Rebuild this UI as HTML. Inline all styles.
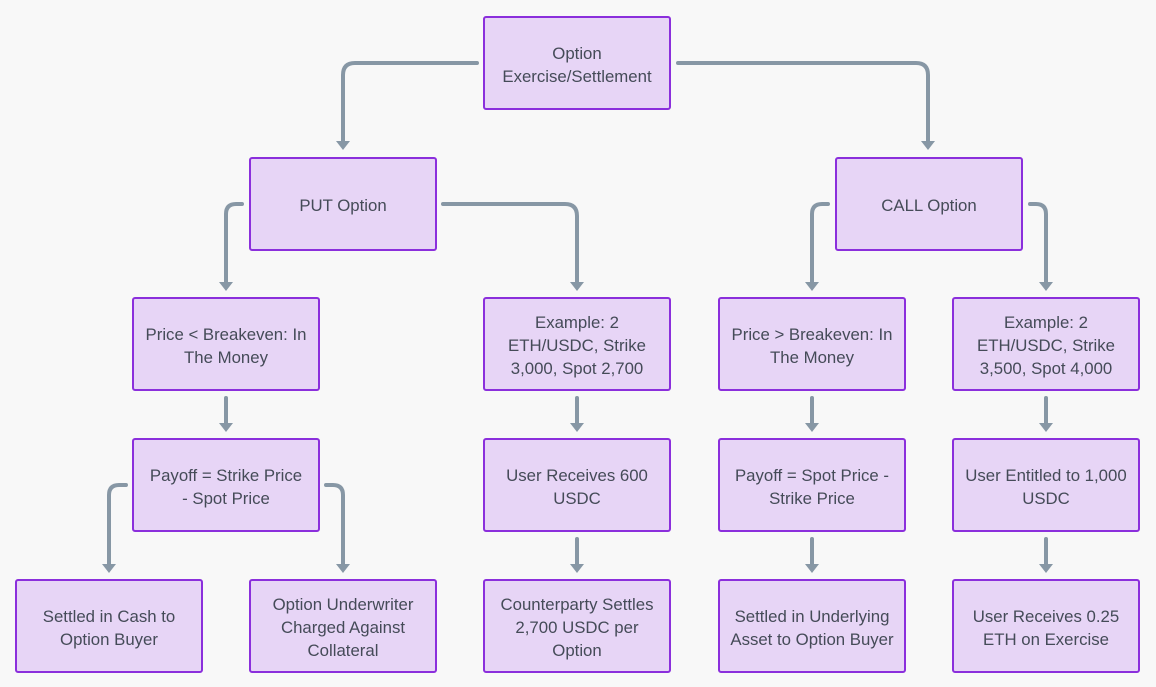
<!DOCTYPE html>
<html>
<head>
<meta charset="utf-8">
<style>
  html, body { margin: 0; padding: 0; }
  body { width: 1156px; height: 687px; background: #f8f8f8; position: relative; overflow: hidden;
         font-family: "Liberation Sans", "DejaVu Sans", sans-serif; }
  svg { position: absolute; left: 0; top: 0; }
  .n { position: absolute; box-sizing: border-box; width: 188px; height: 94px;
       background: #e7d5f6; border: 2px solid #8b2fdc; border-radius: 3px;
       display: flex; align-items: center; justify-content: center; text-align: center;
       color: #454b58; font-size: 16.8px; line-height: 23px; padding-top: 3px; white-space: nowrap; }
</style>
</head>
<body>
<svg width="1156" height="687" viewBox="0 0 1156 687">
  <g fill="none" stroke="#8797a5" stroke-width="4" stroke-linecap="round" stroke-linejoin="round">
    <path d="M477 63 H355 Q343 63 343 75 V141"/>
    <path d="M678 63 H916 Q928 63 928 75 V141"/>
    <path d="M242 204 H236 Q226 204 226 214 V282"/>
    <path d="M443 204 H565 Q577 204 577 216 V282"/>
    <path d="M828 204 H822 Q812 204 812 214 V282"/>
    <path d="M1030 204 H1036 Q1046 204 1046 214 V282"/>
    <path d="M226 398 V423"/>
    <path d="M577 398 V423"/>
    <path d="M812 398 V423"/>
    <path d="M1046 398 V423"/>
    <path d="M126 485 H119 Q109 485 109 495 V564"/>
    <path d="M326 485 H333 Q343 485 343 495 V564"/>
    <path d="M577 539 V564"/>
    <path d="M812 539 V564"/>
    <path d="M1046 539 V564"/>
  </g>
  <g fill="#8797a5">
    <polygon points="336,141 350,141 343,150"/>
    <polygon points="921,141 935,141 928,150"/>
    <polygon points="219,282 233,282 226,291"/>
    <polygon points="570,282 584,282 577,291"/>
    <polygon points="805,282 819,282 812,291"/>
    <polygon points="1039,282 1053,282 1046,291"/>
    <polygon points="219,423 233,423 226,432"/>
    <polygon points="570,423 584,423 577,432"/>
    <polygon points="805,423 819,423 812,432"/>
    <polygon points="1039,423 1053,423 1046,432"/>
    <polygon points="102,564 116,564 109,573"/>
    <polygon points="336,564 350,564 343,573"/>
    <polygon points="570,564 584,564 577,573"/>
    <polygon points="805,564 819,564 812,573"/>
    <polygon points="1039,564 1053,564 1046,573"/>
  </g>
</svg>

<div class="n" style="left:483px;top:16px;">Option<br>Exercise/Settlement</div>

<div class="n" style="left:249px;top:157px;">PUT Option</div>
<div class="n" style="left:835px;top:157px;">CALL Option</div>

<div class="n" style="left:132px;top:297px;">Price &lt; Breakeven: In<br>The Money</div>
<div class="n" style="left:483px;top:297px;">Example: 2<br>ETH/USDC, Strike<br>3,000, Spot 2,700</div>
<div class="n" style="left:718px;top:297px;">Price &gt; Breakeven: In<br>The Money</div>
<div class="n" style="left:952px;top:297px;">Example: 2<br>ETH/USDC, Strike<br>3,500, Spot 4,000</div>

<div class="n" style="left:132px;top:438px;">Payoff = Strike Price<br>- Spot Price</div>
<div class="n" style="left:483px;top:438px;">User Receives 600<br>USDC</div>
<div class="n" style="left:718px;top:438px;">Payoff = Spot Price -<br>Strike Price</div>
<div class="n" style="left:952px;top:438px;">User Entitled to 1,000<br>USDC</div>

<div class="n" style="left:15px;top:579px;">Settled in Cash to<br>Option Buyer</div>
<div class="n" style="left:249px;top:579px;">Option Underwriter<br>Charged Against<br>Collateral</div>
<div class="n" style="left:483px;top:579px;">Counterparty Settles<br>2,700 USDC per<br>Option</div>
<div class="n" style="left:718px;top:579px;">Settled in Underlying<br>Asset to Option Buyer</div>
<div class="n" style="left:952px;top:579px;">User Receives 0.25<br>ETH on Exercise</div>
</body>
</html>
